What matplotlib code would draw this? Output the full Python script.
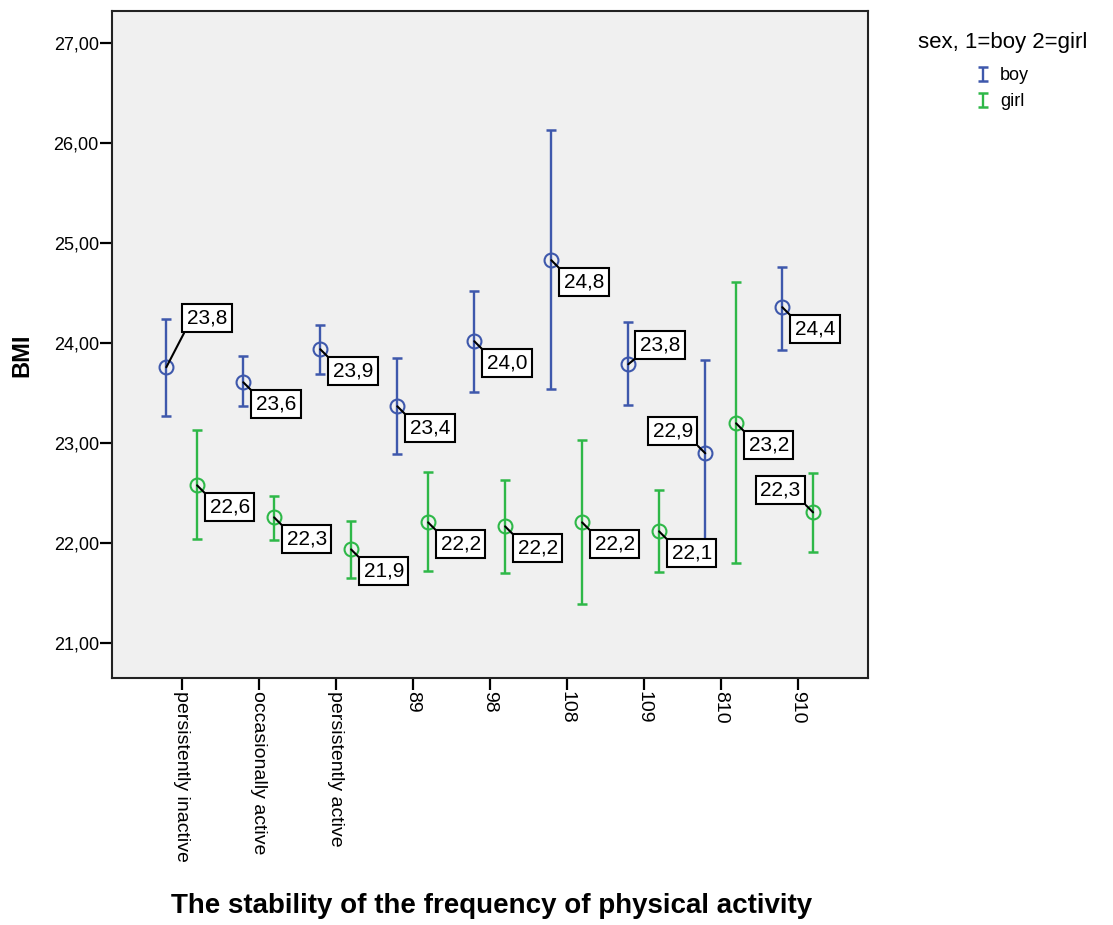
import matplotlib
matplotlib.use("Agg")
import matplotlib.pyplot as plt
from matplotlib.legend_handler import HandlerErrorbar
import numpy as np

plt.rcParams['font.family'] = ['Liberation Sans', 'DejaVu Sans']

# Activity-stability groups on the x axis
categories = ["persistently inactive", "occasionally active", "persistently active",
              "89", "98", "108", "109", "810", "910"]

# Mean BMI with 95% confidence limits per group
boy_mean = [23.76, 23.61, 23.94, 23.37, 24.02, 24.83, 23.79, 22.90, 24.36]
boy_lo = [23.27, 23.37, 23.69, 22.89, 23.51, 23.54, 23.38, 21.97, 23.93]
boy_hi = [24.24, 23.87, 24.18, 23.85, 24.52, 26.13, 24.21, 23.83, 24.76]

girl_mean = [22.58, 22.26, 21.94, 22.21, 22.17, 22.21, 22.12, 23.20, 22.31]
girl_lo = [22.04, 22.03, 21.65, 21.72, 21.70, 21.39, 21.71, 21.80, 21.91]
girl_hi = [23.13, 22.47, 22.22, 22.71, 22.63, 23.03, 22.53, 24.61, 22.70]

# Where each value box sits relative to its point
boy_side = ["up", "lr", "lr", "lr", "lr", "lr", "ur", "ul", "lr"]
girl_side = ["lr", "lr", "lr", "lr", "lr", "lr", "lr", "lr", "ul"]

BLUE = "#3E58AC"
GREEN = "#2EB848"

fig = plt.figure(figsize=(11.13, 9.25), dpi=100)
ax = fig.add_axes([112 / 1113, 1 - 677.5 / 925, 756 / 1113, 666.5 / 925])
ax.set_facecolor("#F0F0F0")

x = np.arange(len(categories))
offset = 0.2


def draw_group(xpos, mean, lo, hi, color, label):
    mean = np.asarray(mean)
    err = np.vstack([mean - np.asarray(lo), np.asarray(hi) - mean])
    cont = ax.errorbar(xpos, mean, yerr=err, fmt="none", ecolor=color,
                       elinewidth=1.7, capsize=3.3, capthick=1.8, zorder=3,
                       label=label)
    ax.plot(xpos, mean, linestyle="none", marker="o", markersize=10,
            markerfacecolor="none", markeredgecolor=color, markeredgewidth=1.5,
            zorder=4)
    return cont


h_boy = draw_group(x - offset, boy_mean, boy_lo, boy_hi, BLUE, "boy")
h_girl = draw_group(x + offset, girl_mean, girl_lo, girl_hi, GREEN, "girl")

PAD = 4.5  # box padding in pixels
FS = 15

# pixel offset of the box corner from the point, text alignment, leader anchor
SIDES = {
    "lr": ((8, -8), "left", "top", (0, 1), (1, -1)),
    "up": ((16, 35), "left", "bottom", (0, 0), (1, 1)),
    "ur": ((7, 5), "left", "bottom", (0, 0), (1, 1)),
    "ul": ((-8, 8), "right", "bottom", (1, 0), (-1, 1)),
}


def value_boxes(xpos, mean, sides):
    for xi, m, side in zip(xpos, mean, sides):
        txt = f"{m:.1f}".replace(".", ",")
        (dx, dy), ha, va, rel, (sx, sy) = SIDES[side]
        ax.annotate(txt, xy=(xi, m), xytext=(dx + sx * PAD, dy + sy * PAD),
                    textcoords="offset pixels",
                    ha=ha, va=va, fontsize=FS, zorder=6,
                    bbox=dict(boxstyle=f"square,pad={PAD / (FS * 100 / 72):.3f}",
                              facecolor="white", edgecolor="black", linewidth=1.5),
                    arrowprops=dict(arrowstyle="-", color="black", lw=1.5,
                                    shrinkA=0, shrinkB=0, relpos=rel))


value_boxes(x - offset, boy_mean, boy_side)
value_boxes(x + offset, girl_mean, girl_side)

ax.set_xlim(-0.905, 8.913)
ax.set_ylim(20.66, 27.32)

yt = np.arange(21, 28, 1)
ax.set_yticks(yt)
ax.set_yticklabels([f"{v:.2f}".replace(".", ",") for v in yt], fontsize=13)
ax.set_xticks(x)
ax.set_xticklabels(categories, rotation=270, fontsize=14, va="top", ha="center")

ax.tick_params(axis="both", direction="out", length=8.5, width=1.6, color="black")
ax.tick_params(axis="y", pad=1)
ax.tick_params(axis="x", pad=1.5)
for sp in ax.spines.values():
    sp.set_linewidth(1.5)
    sp.set_color("#222222")

ax.set_ylabel("BMI", fontsize=17, fontweight="bold")
ax.yaxis.set_label_coords(-0.104, 0.484)
ax.set_xlabel("The stability of the frequency of physical activity",
              fontsize=20, fontweight="bold", va="center")
ax.xaxis.set_label_coords(0.502, -0.343)

leg = fig.legend(handles=[h_boy, h_girl], labels=["boy", "girl"],
                 title="sex, 1=boy 2=girl", loc="upper left",
                 bbox_to_anchor=(902 / 1113, 1 - 16 / 925), frameon=False,
                 fontsize=13, title_fontsize=16, handlelength=0.7,
                 handletextpad=0.6, labelspacing=0.5,
                 handler_map={type(h_boy): HandlerErrorbar(xerr_size=0.4, yerr_size=0.4)})
leg._legend_box.sep = 10

fig.savefig("out.png", dpi=100)
